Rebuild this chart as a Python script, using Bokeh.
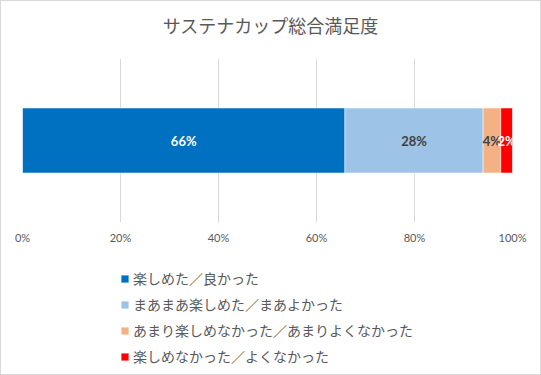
from bokeh.plotting import figure
from bokeh.layouts import column
from bokeh.models import ColumnDataSource, Legend, LegendItem, FixedTicker, CustomJSTickFormatter, Range1d, Div
from bokeh.core.properties import value
from bokeh.embed import file_html
from bokeh.resources import INLINE

title = "サステナカップ総合満足度"
categories = ["楽しめた／良かった", "まあまあ楽しめた／まあよかった",
              "あまり楽しめなかった／あまりよくなかった", "楽しめなかった／よくなかった"]
values = [65.8, 28.2, 3.6, 2.4]
labels = ["66%", "28%", "4%", "2%"]
colors = ["#0070C0", "#9DC3E6", "#F4B183", "#FF0000"]
label_colors = ["#FFFFFF", "#404040", "#404040", "#FFFFFF"]
ticks = [0, 20, 40, 60, 80, 100]

lefts, rights = [], []
acc = 0
for v in values:
    lefts.append(acc)
    acc += v
    rights.append(acc)

src = ColumnDataSource(dict(left=lefts, right=rights, mid=[(l + r) / 2 for l, r in zip(lefts, rights)],
                            color=colors, label=labels, lcolor=label_colors, cat=categories))

JP = "Noto Sans CJK JP"

head = Div(text=f'<div style="font-family:\'{JP}\';font-size:18px;color:#595959;'
                f'text-align:center;line-height:48px;width:539px;margin:0;padding:0;">{title}</div>',
           width=539, height=57, margin=0)

p = figure(width=539, height=192, output_backend="svg", toolbar_location=None,
           x_range=Range1d(0, 100), y_range=Range1d(0, 1),
           min_border_left=21, min_border_right=28, min_border_top=0, min_border_bottom=28)

p.hbar(y=0.5, left="left", right="right", height=0.396, color="color", source=src,
       line_color="white", line_width=0.5)
p.text(x="mid", y=0.5, text="label", text_color="lcolor", source=src,
       text_align="center", text_baseline="middle", text_font=value("Lato"),
       text_font_style="bold", text_font_size="13px")

p.xaxis.ticker = FixedTicker(ticks=ticks)
p.xaxis.formatter = CustomJSTickFormatter(code="return tick + '%';")
p.xaxis.axis_line_color = None
p.xaxis.major_tick_line_color = None
p.xaxis.minor_tick_line_color = None
p.xaxis.major_label_text_color = "#595959"
p.xaxis.major_label_text_font = "Lato"
p.xaxis.major_label_text_font_size = "11px"
p.xaxis.major_label_standoff = 2
p.yaxis.visible = False
p.xgrid.grid_line_color = "#D9D9D9"
p.ygrid.grid_line_color = None
p.outline_line_color = None

# legend panel
p2 = figure(width=539, height=124, output_backend="svg", toolbar_location=None,
            x_range=Range1d(0, 100), y_range=Range1d(0, 1),
            min_border_left=0, min_border_right=0, min_border_top=0, min_border_bottom=0)
p2.axis.visible = False
p2.grid.grid_line_color = None
p2.outline_line_color = None
src2 = ColumnDataSource(dict(left=lefts, right=rights, color=colors))
r2 = p2.hbar(y=-5, left="left", right="right", height=0.5, color="color", line_color=None, source=src2)
items = [LegendItem(label=c, renderers=[r2], index=i) for i, c in enumerate(categories)]
legend = Legend(items=items, orientation="vertical", location=(98, 8),
                label_text_font=JP, label_text_font_size="14px", label_text_color="#595959",
                glyph_width=9, glyph_height=9, spacing=6, label_height=20,
                border_line_color=None, background_fill_alpha=0, margin=0, padding=0,
                label_standoff=4)
p2.add_layout(legend, "center")

layout = column(head, p, p2, spacing=0, styles={"border": "1px solid #D9D9D9"})
open("out.html", "w").write(file_html(layout, INLINE))
